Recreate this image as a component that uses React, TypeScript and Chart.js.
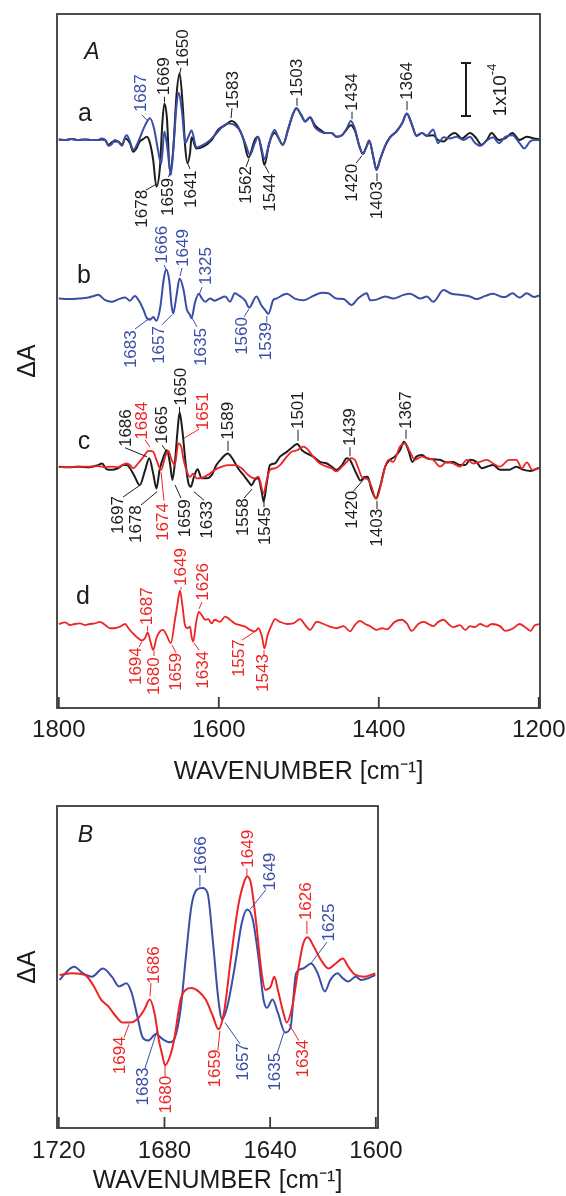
import React, { useEffect, useRef } from "react";
import { Chart, registerables } from "chart.js";
Chart.register(...registerables);

const FONT = "Arial, 'Liberation Sans', Helvetica, sans-serif";
const COLORS: Record<string, string> = { k: "#1c1c1c", b: "#3a4ea6", r: "#ee2424" };

type Pt = [number, number];

// ---- Panel A tick values ----
const A_TICKS = [1800, 1600, 1400, 1200];
const B_TICKS = [1720, 1680, 1640, 1600];

// ---- Panel A traces: [wavenumber, ΔA ×10^-4 relative to trace baseline] ----
const A_BLUE: Pt[] = [[1800,0.01],[1792,0],[1784,0.02],[1776,0],[1767,0.01],[1759,0],[1751,0],[1746,0.03],[1742,0],[1738,-0.11],[1734,-0.08],[1730,0],[1726,-0.03],[1721,-0.11],[1717,0.06],[1715,0.09],[1711,-0.03],[1707,-0.19],[1703,-0.11],[1699,0.03],[1692,0.28],[1686,0.41],[1681,0.22],[1676,-0.19],[1672,-0.45],[1668,0.16],[1664,-0.19],[1660,-0.66],[1656,0],[1653,0.63],[1650,0.89],[1646,0.53],[1642,-0.06],[1638,0.06],[1634,0.18],[1628,-0.14],[1622,-0.11],[1613,-0.03],[1605,0.09],[1596,0.24],[1588,0.31],[1580,0.28],[1573,0.16],[1567,-0.06],[1561,-0.28],[1555,-0.06],[1551,0.06],[1547,-0.13],[1543,-0.36],[1538,-0.13],[1534,0.09],[1530,0.19],[1526,0.06],[1520,-0.09],[1513,0.22],[1507,0.5],[1503,0.6],[1497,0.47],[1492,0.35],[1486,0.43],[1480,0.24],[1473,0.16],[1467,0.13],[1459,0.13],[1453,0.06],[1446,0.09],[1440,0.22],[1435,0.36],[1430,0.22],[1424,-0.13],[1420,-0.26],[1415,-0.11],[1412,-0.01],[1407,-0.31],[1403,-0.57],[1398,-0.35],[1392,-0.11],[1386,0.05],[1378,0.16],[1371,0.31],[1365,0.5],[1359,0.31],[1353,0.08],[1346,0.13],[1340,0.08],[1332,0.2],[1326,-0.06],[1319,0.05],[1311,0.03],[1303,0.06],[1294,0],[1286,0.06],[1280,-0.05],[1273,-0.11],[1265,-0.01],[1257,0.05],[1250,-0.06],[1242,0.06],[1233,0.09],[1224,-0.06],[1218,-0.16],[1211,-0.03],[1205,0],[1199,0]];

const A_BLACK: Pt[] = [[1800,0.01],[1792,0],[1784,0.02],[1776,0],[1767,0.01],[1759,0],[1751,0],[1746,0.01],[1742,0],[1738,-0.09],[1732,-0.03],[1726,-0.03],[1721,-0.09],[1717,0.03],[1711,-0.06],[1707,-0.22],[1703,-0.16],[1699,-0.03],[1695,0.01],[1690,0.06],[1686,-0.06],[1682,-0.38],[1678,-0.88],[1673.5,-0.5],[1670.6,0.31],[1668,0.69],[1665,0.44],[1661,-0.6],[1657,-0.19],[1653,0.82],[1649,1.26],[1645,0.63],[1642,-0.13],[1639,-0.44],[1636,-0.25],[1634,0.05],[1628,-0.16],[1620,-0.13],[1609,0],[1601,0.19],[1592,0.28],[1584,0.36],[1576,0.25],[1569,0],[1563,-0.33],[1555,0],[1551,0.06],[1546,-0.25],[1543,-0.47],[1537,-0.06],[1530,0.13],[1526,0.06],[1520,-0.09],[1513,0.22],[1507,0.5],[1503,0.6],[1497,0.47],[1492,0.35],[1486,0.43],[1480,0.28],[1473,0.19],[1467,0.13],[1459,0.13],[1453,0.06],[1446,0.09],[1440,0.2],[1435,0.28],[1430,0.18],[1424,-0.13],[1420,-0.26],[1415,-0.11],[1412,-0.01],[1407,-0.31],[1403,-0.55],[1398,-0.35],[1392,-0.11],[1386,0.05],[1378,0.16],[1371,0.31],[1365,0.5],[1359,0.31],[1353,0.08],[1346,0.13],[1340,0.08],[1332,0.09],[1326,0],[1319,-0.03],[1311,0.09],[1305,0.13],[1296,0.03],[1286,0.13],[1278,0.03],[1272,-0.09],[1265,0],[1259,0.13],[1250,0],[1242,0.03],[1233,0.13],[1224,0],[1215,0.06],[1206,0.03],[1199,0.01]];

const B_BLUE: Pt[] = [[1800,-0.02],[1788,-0.03],[1776,-0.02],[1763,0],[1756,0.03],[1751,0.05],[1742,-0.05],[1734,-0.08],[1725,-0.03],[1717,0],[1711,-0.06],[1705,0.03],[1699,-0.08],[1694,-0.24],[1690,-0.39],[1686,-0.42],[1682,-0.37],[1678,-0.44],[1673,-0.17],[1669,0.33],[1666,0.53],[1662,0.33],[1659,-0.16],[1657,-0.3],[1653,0.02],[1649,0.36],[1644,0.14],[1640,-0.22],[1636,-0.33],[1634,-0.39],[1630,-0.11],[1625,0.07],[1621,-0.02],[1617,-0.08],[1611,-0.02],[1605,-0.06],[1599,-0.02],[1592,0.02],[1586,-0.08],[1580,0.08],[1574,0.03],[1567,-0.06],[1562,-0.19],[1553,0.02],[1547,-0.14],[1542,-0.24],[1538,-0.31],[1532,-0.05],[1528,-0.02],[1515,0.07],[1505,-0.02],[1494,-0.05],[1482,0.03],[1471,0.09],[1463,0.08],[1453,-0.02],[1444,-0.03],[1434,-0.14],[1426,-0.02],[1415,0.08],[1411,-0.05],[1403,-0.04],[1392,0.02],[1382,-0.02],[1369,0.05],[1361,0.07],[1348,-0.02],[1340,0.02],[1332,-0.08],[1319,0.14],[1309,0.07],[1298,0.05],[1286,0.02],[1278,-0.03],[1267,0.03],[1257,0.07],[1248,0.02],[1242,0.01],[1233,0.08],[1224,0],[1215,0.08],[1206,0.01],[1199,0.04]];

const C_BLACK: Pt[] = [[1800,0],[1788,-0.01],[1776,0],[1763,-0.01],[1751,0.03],[1746,0.06],[1740,-0.05],[1734,-0.06],[1726,-0.03],[1719,0.03],[1715,0.03],[1711,-0.03],[1705,-0.19],[1699,-0.35],[1692,-0.06],[1687,0.16],[1682,-0.13],[1678,-0.41],[1674,-0.06],[1669,0.19],[1665,0.31],[1661,0.06],[1658,-0.25],[1655,0.06],[1651.5,0.69],[1649,1.02],[1645.6,0.69],[1641,0],[1638,-0.31],[1635,-0.38],[1631,-0.19],[1626.5,-0.05],[1621.5,-0.22],[1615,-0.22],[1609,-0.16],[1603,0.03],[1596,0.16],[1589,0.25],[1582,0.13],[1576,-0.03],[1569,-0.16],[1563,-0.28],[1559,-0.35],[1555,-0.25],[1551,-0.22],[1546,-0.5],[1544,-0.66],[1540,-0.3],[1536,0.03],[1530,0.06],[1523.5,0.19],[1515,0.28],[1507,0.38],[1502,0.43],[1496,0.31],[1490,0.25],[1482,0.19],[1473.5,0.09],[1465,0.06],[1459,0],[1453,-0.06],[1446,0.03],[1440,0.16],[1436,0.13],[1432,0],[1427,-0.16],[1423,-0.26],[1418.5,-0.2],[1414,-0.19],[1409,-0.44],[1403.5,-0.6],[1398.5,-0.38],[1392,0],[1386,0.13],[1380,0.19],[1373.5,0.31],[1368.5,0.47],[1363,0.31],[1358,0.09],[1353,0.19],[1346,0.22],[1340,0.16],[1332,0.14],[1323.5,0.13],[1315,0.08],[1307,0.09],[1298.5,0.03],[1292,0.03],[1286,0.13],[1278,0.09],[1271,-0.03],[1265,0],[1257,0.03],[1248.5,-0.06],[1237,-0.06],[1228,0],[1219,-0.06],[1210,-0.08],[1201,-0.03],[1199,-0.02]];

const C_RED: Pt[] = [[1800,-0.01],[1788,-0.01],[1776,0],[1763,0],[1751,0.01],[1742,-0.01],[1734,0],[1726,-0.01],[1721,0.03],[1715,0.06],[1711,0.03],[1707,-0.03],[1701,0.06],[1694,0.19],[1688,0.3],[1682,0.28],[1678,0.13],[1672,-0.06],[1667,0.19],[1663,0.3],[1659,0.13],[1655,0.03],[1650.5,0.44],[1647,0.38],[1644,0.13],[1640,-0.09],[1636,-0.19],[1632,-0.13],[1628,-0.22],[1621.5,-0.21],[1613,-0.15],[1605,-0.06],[1596,0],[1588,0.03],[1580,0.03],[1571.5,-0.03],[1563,-0.16],[1555,-0.22],[1550.5,-0.19],[1544,-0.5],[1540,-0.25],[1536,-0.06],[1530,-0.03],[1523.5,0.03],[1515,0.19],[1509,0.28],[1502,0.31],[1494,0.38],[1488,0.31],[1482,0.19],[1473.5,0.06],[1465,0],[1459,-0.03],[1453,-0.09],[1446,0],[1440,0.09],[1435,0.16],[1430,0.13],[1425.6,-0.03],[1421.5,-0.19],[1417,-0.22],[1413,-0.25],[1409,-0.38],[1405,-0.57],[1402.7,-0.6],[1396,-0.25],[1392,0],[1388,0.13],[1382,0.09],[1373.5,0.38],[1367,0.44],[1361,0.28],[1355,0.13],[1346,0.19],[1340,0.16],[1332,0.13],[1323.5,0],[1315,0.09],[1307,0.06],[1298.5,0],[1290,0.13],[1282,0.06],[1273.5,0.09],[1265,0.13],[1257,0.06],[1248.5,0],[1237,0.13],[1228,0.13],[1221,-0.03],[1215,0.08],[1208,-0.06],[1201,-0.03],[1199,-0.02]];

const D_RED: Pt[] = [[1800,0],[1792,0.03],[1786,-0.02],[1780,0],[1773.5,0.01],[1767,-0.02],[1761,0],[1755,0.01],[1748.6,0.04],[1742,-0.02],[1736,-0.08],[1730,-0.08],[1723.6,-0.05],[1717,0],[1713,-0.08],[1707,-0.18],[1700.6,-0.27],[1696.4,-0.31],[1692.3,-0.27],[1689,-0.16],[1686,-0.3],[1682,-0.49],[1678,-0.27],[1673.6,-0.14],[1669.4,-0.11],[1665.3,-0.21],[1660,-0.36],[1654.8,0.08],[1651.5,0.39],[1648.6,0.63],[1645.3,0.33],[1642.3,-0.02],[1639,-0.08],[1636,-0.05],[1634,-0.24],[1632,-0.33],[1628.5,0.01],[1625,0.23],[1621.5,0.17],[1617,0.08],[1613,0.09],[1609,0.01],[1605,0.08],[1598.6,0.04],[1592,0.14],[1586,0.08],[1580,0.01],[1573.5,-0.02],[1567,-0.05],[1561,-0.11],[1554.6,-0.14],[1550.5,-0.08],[1546,-0.24],[1543,-0.46],[1539,-0.21],[1534,-0.02],[1529.6,0.09],[1523.5,0.04],[1515,0],[1507,0.01],[1498.5,0.09],[1492,-0.02],[1486,-0.11],[1477.7,0.04],[1469,0],[1461,-0.05],[1452.7,-0.08],[1444,-0.04],[1436,-0.14],[1430,-0.02],[1423.5,0.06],[1417,0],[1411,-0.04],[1402.7,-0.11],[1396,-0.08],[1390,-0.1],[1380,0.04],[1371.5,0.08],[1365,0.01],[1359,-0.13],[1350.6,0],[1344,0.04],[1338,0],[1332,-0.04],[1325.6,0.04],[1319,0.08],[1313,0],[1307,-0.06],[1298.5,-0.02],[1292,-0.11],[1286,-0.04],[1280,-0.06],[1273.5,0],[1265,-0.05],[1259,0],[1248.5,-0.04],[1242,-0.13],[1233,-0.09],[1224,0],[1217,-0.06],[1210,-0.13],[1205.6,-0.03],[1199,0]];

// ---- Panel B traces (ΔA ×10^-4) ----
const PB_BLUE: Pt[] = [[1719.7,-0.03],[1717,0.02],[1714.2,0.05],[1710.8,0.01],[1707.4,-0.01],[1703.3,0.04],[1699.9,-0.01],[1697.2,-0.07],[1694.4,-0.05],[1692.4,-0.11],[1690.3,-0.25],[1688.3,-0.38],[1686.2,-0.4],[1683.2,-0.36],[1680.8,-0.39],[1678,-0.41],[1676,-0.38],[1673.9,-0.21],[1671.9,0.11],[1669.8,0.42],[1667.8,0.52],[1665.7,0.53],[1663.7,0.5],[1661.7,0.21],[1659.6,-0.15],[1658.2,-0.27],[1656.2,-0.19],[1653.4,0.05],[1650.7,0.32],[1648.7,0.4],[1646.6,0.34],[1644.6,0.13],[1642.5,-0.15],[1641.2,-0.2],[1639.1,-0.15],[1637.1,-0.23],[1634.3,-0.35],[1632.3,-0.32],[1630.2,0.01],[1627.5,0.04],[1624.5,0.07],[1622,0.01],[1619.3,-0.1],[1617.2,-0.03],[1614.5,0.01],[1612.5,-0.02],[1610.4,-0.04],[1607.7,-0.01],[1605.6,-0.03],[1602.9,-0.02],[1600.2,0]];

const PB_RED: Pt[] = [[1719.7,0],[1714.9,0.01],[1710.1,0],[1706.7,-0.07],[1704,-0.15],[1701.3,-0.19],[1698.5,-0.25],[1695.8,-0.29],[1693.1,-0.29],[1690.3,-0.27],[1687.6,-0.21],[1685.6,-0.15],[1683.8,-0.23],[1682.1,-0.4],[1680.8,-0.49],[1679.8,-0.55],[1678,-0.5],[1676.4,-0.4],[1673.9,-0.15],[1671.9,-0.09],[1669.8,-0.08],[1667.1,-0.1],[1664.4,-0.15],[1661.7,-0.25],[1659.6,-0.33],[1657.5,-0.23],[1654.8,0.11],[1652.1,0.42],[1650,0.56],[1648.7,0.6],[1647.3,0.56],[1645.3,0.32],[1643.2,0.01],[1641.8,-0.09],[1639.8,-0.07],[1638.4,-0.01],[1637.1,-0.09],[1635,-0.23],[1633.7,-0.29],[1631.6,-0.19],[1629.6,0.01],[1627.5,0.19],[1625.8,0.23],[1623.4,0.17],[1620.7,0.09],[1617.9,0.04],[1615.2,0.07],[1612.5,0.1],[1610.4,0.05],[1607.7,0],[1604.3,-0.01],[1600.2,0.01]];

// Trace baselines (vertical stacking offsets, ×10^-4)
const OFFSET = { a: 10.717, b: 7.745, c: 4.553, d: 1.585 };

// ---- Peak labels: [text, colour, textX, textY, leaderX1, leaderY1, leaderX2, leaderY2] (data units) ----
type Lab = [string, string, number, number, number, number, number, number];
const A_LABELS: Lab[] = [
  ["1687","b",1697.25,11.6,1696,11.19,1689.75,11.09],
  ["1669","k",1668.5,11.92,1667.9,11.53,1667.9,11.43],
  ["1650","k",1644.75,12.45,1647.25,12.08,1648.5,11.98],
  ["1583","k",1582.25,11.66,1583.5,11.32,1584.75,11.13],
  ["1503","k",1502.25,11.89,1502.25,11.51,1502.25,11.36],
  ["1434","k",1433.5,11.62,1433.5,11.25,1433.5,11.11],
  ["1364","k",1364.75,11.83,1364.75,11.45,1364.75,11.28],
  ["1678","k",1695.75,9.42,1691,9.77,1679.75,9.87],
  ["1659","k",1663.5,9.64,1662.9,10.02,1661,10.09],
  ["1641","k",1634.75,9.79,1636,10.17,1638.5,10.26],
  ["1562","k",1566,9.87,1566,10.21,1562.25,10.36],
  ["1544","k",1536,9.72,1537.25,10.09,1542.25,10.23],
  ["1420","k",1433.5,9.91,1428.5,10.28,1421,10.42],
  ["1403","k",1402.25,9.58,1402.25,9.94,1402.25,10.09],
  ["1666","b",1671,8.74,1668.5,8.36,1666,8.28],
  ["1649","b",1644.75,8.68,1646,8.3,1648.5,8.15],
  ["1325","b",1616,8.34,1621,7.94,1624.75,7.79],
  ["1683","b",1709.75,6.77,1704.75,7.15,1686,7.36],
  ["1657","b",1674.75,6.85,1671,7.23,1658.5,7.42],
  ["1635","b",1622.25,6.81,1627.25,7.19,1633.5,7.36],
  ["1560","b",1571,7.02,1568.5,7.38,1562.25,7.53],
  ["1539","b",1540,6.92,1540,7.28,1540,7.4],
  ["1686","k",1716,5.28,1717.25,4.91,1689.75,4.74],
  ["1684","r",1695,5.42,1692.25,5.06,1686,4.92],
  ["1665","k",1671,5.34,1671,4.96,1664.75,4.83],
  ["1650","k",1647.25,6.06,1649.1,5.68,1649.1,5.58],
  ["1651","r",1619.75,5.6,1624.75,5.26,1643.5,5.09],
  ["1589","k",1588.5,5.42,1588.5,5.04,1588.5,4.85],
  ["1501","k",1501,5.62,1501,5.25,1501,5.04],
  ["1439","k",1436,5.3,1436,4.92,1436,4.75],
  ["1367","k",1366,5.62,1366,5.25,1366,5.08],
  ["1697","k",1726,3.64,1719.75,3.98,1699.75,4.19],
  ["1678","k",1703.5,3.47,1697.25,3.83,1677.25,4.08],
  ["1674","r",1669.75,3.51,1668.5,3.91,1672.25,4.45],
  ["1659","k",1642.25,3.58,1647.25,3.96,1654.75,4.21],
  ["1633","k",1614.75,3.55,1618.5,3.92,1631,4.08],
  ["1558","k",1569.75,3.6,1568.5,3.96,1558.5,4.13],
  ["1545","k",1542.25,3.43,1543.5,3.89,1543.5,3.79],
  ["1420","k",1433.5,3.74,1432.25,4.08,1418.5,4.32],
  ["1403","k",1402.25,3.4,1402.25,3.75,1402.25,3.91],
  ["1687","r",1689.75,1.92,1689,1.55,1689,1.45],
  ["1649","r",1647.25,2.66,1647.25,2.28,1647.25,2.23],
  ["1626","r",1619.75,2.38,1621,2.0,1624.75,1.87],
  ["1694","r",1703.5,0.79,1699.75,1.15,1696,1.26],
  ["1680","r",1681,0.6,1681,0.98,1681,1.08],
  ["1659","r",1653.5,0.68,1653.5,1.04,1658.5,1.19],
  ["1634","r",1619.75,0.72,1624.75,1.09,1631,1.23],
  ["1557","r",1574.75,0.94,1571,1.28,1556,1.43],
  ["1543","r",1544.75,0.66,1543.5,1.0,1543.5,1.09],
];

const B_LABELS: Lab[] = [
  ["1666","b",1666.2,0.73,1666.6,0.61,1666.6,0.54],
  ["1649","r",1648.4,0.77,1648.8,0.65,1648.8,0.6],
  ["1649","b",1640.1,0.63,1641.6,0.52,1647.6,0.4],
  ["1626","r",1626.4,0.45,1626.1,0.33,1626.1,0.25],
  ["1625","b",1617.7,0.32,1618.5,0.2,1624.6,0.07],
  ["1686","r",1684,0.06,1685.1,-0.05,1685.5,-0.13],
  ["1694","r",1696.8,-0.49,1695.3,-0.38,1693.4,-0.3],
  ["1683","b",1688.1,-0.68,1687.4,-0.57,1682.8,-0.34],
  ["1680","r",1679.4,-0.73,1679.8,-0.55,1679.8,-0.62],
  ["1659","r",1660.9,-0.57,1659.8,-0.46,1659.0,-0.34],
  ["1657","b",1650.3,-0.53,1651.4,-0.42,1657.1,-0.29],
  ["1635","b",1638.2,-0.59,1637.4,-0.48,1634.8,-0.35],
  ["1634","r",1627.6,-0.51,1629.1,-0.4,1632.9,-0.3],
];

// Panel/trace letters: [text, x, y, italic]
const A_LETTERS: [string, number, number, boolean][] = [
  ["A", 1758.5, 12.36, true],
  ["a", 1767.25, 11.21, false],
  ["b", 1768.5, 8.15, false],
  ["c", 1768.5, 5.02, false],
  ["d", 1769.75, 2.09, false],
];
const B_LETTERS: [string, number, number, boolean][] = [["B", 1709.9, 0.85, true]];

// Scale bar (1×10^-4): x, y from, y to; label position
const SCALE_BAR = { x: 1291, y0: 11.17, y1: 12.17, labelX: 1249.75, labelY: 11.66 };

const toXY = (pts: Pt[], off: number) => pts.map(([x, y]) => ({ x, y: y + off }));

function overlayPlugin(labels: Lab[], letters: [string, number, number, boolean][], withScaleBar: boolean) {
  return {
    id: "overlay",
    afterDatasetsDraw(chart: any) {
      const { ctx, chartArea: ca, scales } = chart;
      const x = scales.x, y = scales.y;
      ctx.save();
      // frame
      ctx.strokeStyle = "#3a3a3a";
      ctx.lineWidth = 1.8;
      ctx.strokeRect(ca.left, ca.top, ca.right - ca.left, ca.bottom - ca.top);
      // inward tick marks
      x.ticks.forEach((t: any) => {
        const px = x.getPixelForValue(t.value);
        ctx.beginPath();
        ctx.moveTo(px, ca.bottom);
        ctx.lineTo(px, ca.bottom - 11);
        ctx.stroke();
      });
      // peak labels
      ctx.lineWidth = 1;
      ctx.font = `17px ${FONT}`;
      for (const [t, c, cx, cy, x1, y1, x2, y2] of labels) {
        const col = COLORS[c];
        ctx.strokeStyle = col;
        ctx.fillStyle = col;
        ctx.beginPath();
        ctx.moveTo(x.getPixelForValue(x1), y.getPixelForValue(y1));
        ctx.lineTo(x.getPixelForValue(x2), y.getPixelForValue(y2));
        ctx.stroke();
        ctx.save();
        ctx.translate(x.getPixelForValue(cx), y.getPixelForValue(cy));
        ctx.rotate(-Math.PI / 2);
        ctx.textAlign = "center";
        ctx.textBaseline = "middle";
        ctx.fillText(t, 0, 0);
        ctx.restore();
      }
      // letters
      ctx.fillStyle = "#1c1c1c";
      ctx.textAlign = "center";
      ctx.textBaseline = "middle";
      for (const [t, lx, ly, it] of letters) {
        ctx.font = it ? `italic 23px ${FONT}` : `25px ${FONT}`;
        ctx.fillText(t, x.getPixelForValue(lx), y.getPixelForValue(ly));
      }
      if (withScaleBar) {
        const bx = x.getPixelForValue(SCALE_BAR.x);
        const by0 = y.getPixelForValue(SCALE_BAR.y0);
        const by1 = y.getPixelForValue(SCALE_BAR.y1);
        ctx.strokeStyle = "#1c1c1c";
        ctx.lineWidth = 2;
        ctx.beginPath();
        ctx.moveTo(bx, by0); ctx.lineTo(bx, by1);
        ctx.moveTo(bx - 5, by0); ctx.lineTo(bx + 5, by0);
        ctx.moveTo(bx - 5, by1); ctx.lineTo(bx + 5, by1);
        ctx.stroke();
        ctx.save();
        ctx.translate(x.getPixelForValue(SCALE_BAR.labelX), y.getPixelForValue(SCALE_BAR.labelY));
        ctx.rotate(-Math.PI / 2);
        ctx.font = `19px ${FONT}`;
        const main = "1x10";
        const w1 = ctx.measureText(main).width;
        ctx.font = `13px ${FONT}`;
        const sup = "-4";
        const w2 = ctx.measureText(sup).width;
        const start = -(w1 + w2) / 2;
        ctx.textAlign = "left";
        ctx.textBaseline = "middle";
        ctx.font = `19px ${FONT}`;
        ctx.fillText(main, start, 2);
        ctx.font = `13px ${FONT}`;
        ctx.fillText(sup, start + w1, -7);
        ctx.restore();
      }
      ctx.restore();
    },
  };
}

function lineDs(pts: Pt[], off: number, color: string, width = 2) {
  return {
    data: toXY(pts, off),
    borderColor: color,
    borderWidth: width,
    pointRadius: 0,
    cubicInterpolationMode: "monotone" as const,
    fill: false,
  };
}

function buildOptions(cfg: {
  min: number; max: number; ymin: number; ymax: number; ticks: number[];
  right: number; top: number; axisH: number; tickPad: number; titlePad: number;
}) {
  return {
    animation: false as const,
    responsive: false,
    maintainAspectRatio: false,
    events: [] as any[],
    layout: { padding: { left: 0, right: cfg.right, top: cfg.top, bottom: 0 } },
    plugins: { legend: { display: false }, tooltip: { enabled: false } },
    scales: {
      x: {
        type: "linear" as const,
        reverse: true,
        min: cfg.min,
        max: cfg.max,
        afterBuildTicks: (s: any) => { s.ticks = cfg.ticks.map((v) => ({ value: v })); },
        afterFit: (s: any) => { s.height = cfg.axisH; s.paddingLeft = 0; s.paddingRight = 0; },
        grid: { display: false, drawTicks: false },
        border: { display: false },
        ticks: {
          callback: (v: any) => String(v),
          font: { size: 24, family: FONT },
          color: "#1c1c1c",
          padding: cfg.tickPad,
          maxRotation: 0,
          autoSkip: false,
        },
        title: {
          display: true,
          text: "WAVENUMBER [cm⁻¹]",
          font: { size: 25, family: FONT },
          color: "#1c1c1c",
          padding: { top: 0, bottom: cfg.titlePad },
        },
      },
      y: {
        type: "linear" as const,
        min: cfg.ymin,
        max: cfg.ymax,
        afterFit: (s: any) => { s.width = 57; s.paddingTop = 0; s.paddingBottom = 0; },
        ticks: { display: false },
        grid: { display: false, drawTicks: false },
        border: { display: false },
        title: {
          display: true,
          text: "ΔA",
          font: { size: 25, family: FONT },
          color: "#1c1c1c",
          padding: { top: 13, bottom: 0 },
        },
      },
    },
  };
}

export default function App() {
  const refA = useRef<HTMLCanvasElement>(null);
  const refB = useRef<HTMLCanvasElement>(null);

  useEffect(() => {
    const chartA = new Chart(refA.current!, {
      type: "line",
      data: {
        datasets: [
          lineDs(A_BLUE, OFFSET.a, COLORS.b),
          lineDs(A_BLACK, OFFSET.a, COLORS.k),
          lineDs(B_BLUE, OFFSET.b, COLORS.b),
          lineDs(C_RED, OFFSET.c, COLORS.r, 1.8),
          lineDs(C_BLACK, OFFSET.c, COLORS.k),
          lineDs(D_RED, OFFSET.d, COLORS.r, 1.8),
        ],
      },
      options: buildOptions({
        min: 1198.5, max: 1802.25, ymin: 0, ymax: 13.094, ticks: A_TICKS,
        right: 26, top: 14, axisH: 87, tickPad: 7.6, titlePad: 8,
      }) as any,
      plugins: [overlayPlugin(A_LABELS, A_LETTERS, true)],
    });
    const chartB = new Chart(refB.current!, {
      type: "line",
      data: {
        datasets: [
          lineDs(PB_RED, 0, COLORS.r, 2),
          lineDs(PB_BLUE, 0, COLORS.b, 2),
        ],
      },
      options: buildOptions({
        min: 1599.18, max: 1720.68, ymin: -0.933, ymax: 1.0305, ticks: B_TICKS,
        right: 188, top: 11, axisH: 68, tickPad: 9.3, titlePad: 0,
      }) as any,
      plugins: [overlayPlugin(B_LABELS, B_LETTERS, false)],
    });
    return () => {
      chartA.destroy();
      chartB.destroy();
    };
  }, []);

  return (
    <div style={{ position: "absolute", left: 0, top: 0, width: 566, height: 1196, background: "#fff" }}>
      <canvas ref={refA} width={566} height={795} style={{ position: "absolute", left: 0, top: 0, width: 566, height: 795 }} />
      <canvas ref={refB} width={566} height={401} style={{ position: "absolute", left: 0, top: 795, width: 566, height: 401 }} />
    </div>
  );
}
